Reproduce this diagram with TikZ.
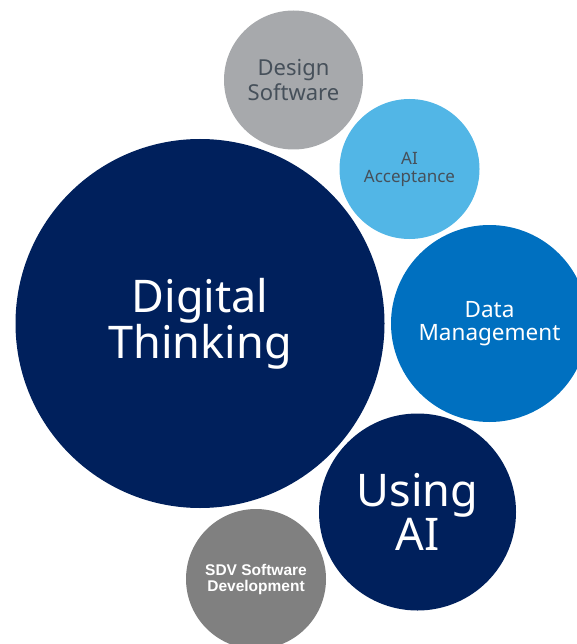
\documentclass[tikz,border=0pt]{standalone}
\usepackage{fontspec}
\setmainfont{Noto Sans}
\newfontfamily\sdvfont{Liberation Sans}
\usepackage{xcolor}
\definecolor{navy}{HTML}{00205C}
\definecolor{lightgray}{HTML}{A7A9AC}
\definecolor{skyblue}{HTML}{52B6E6}
\definecolor{midblue}{HTML}{0070C0}
\definecolor{darkgray}{HTML}{808080}
\definecolor{textgray}{HTML}{46505A}

\tikzset{
    bubble/.style={circle, inner sep=0pt, align=center, minimum size=#1},
}

\begin{document}
\begin{tikzpicture}[x=1pt, y=-1pt]
        \useasboundingbox (0,0) rectangle (577,644);
        \clip (0,0) rectangle (577,644);
        \node[bubble=139pt, fill=lightgray, text=textgray, font=\fontsize{22}{25}\selectfont] (design) at (293.5,80) {Design\\Software};
        \node[bubble=140pt, fill=skyblue, text=textgray, font=\fontsize{17}{18}\selectfont] (accept) at (409.5,169) {AI\\Acceptance};
        \node[bubble=369pt, fill=navy, text=white, font=\fontsize{45}{46}\selectfont] (digital) at (200,323.5) {Digital\\Thinking};
        \node[bubble=197pt, fill=midblue, text=white, font=\fontsize{22.5}{23}\selectfont] (data) at (489.5,323.5) {Data\\Management};
        \node[bubble=197pt, fill=navy, text=white, font=\fontsize{45}{43}\selectfont] (usingai) at (417.5,512) {Using\\AI};
        \node[bubble=140pt, fill=darkgray, text=white, font=\sdvfont\bfseries\fontsize{15.5}{16}\selectfont] (sdv) at (256,579) {SDV Software\\Development};
    \end{tikzpicture}
\end{document}
